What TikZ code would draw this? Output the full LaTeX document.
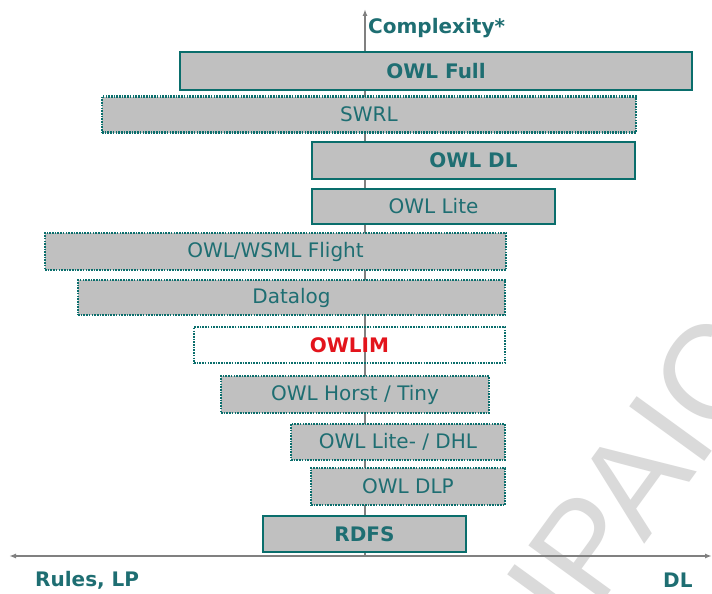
\documentclass[tikz,border=0pt]{standalone}
\usepackage{fontspec}
\setmainfont{DejaVu Sans}
\newfontfamily\markfont{Liberation Sans}
\usetikzlibrary{arrows.meta}
\definecolor{tealline}{HTML}{0A6E6C}
\definecolor{tealtext}{HTML}{1E6E72}
\definecolor{boxgray}{HTML}{C0C0C0}
\definecolor{axisgray}{HTML}{808080}
\definecolor{owlred}{HTML}{E3141C}
\definecolor{markgray}{HTML}{DADADA}
\tikzset{
  x=1pt, y=-1pt,
  layer/.style={fill=boxgray, text=tealtext, inner sep=0pt, font=\fontsize{20}{24}\selectfont},
  solidlayer/.style={layer, draw=tealline, line width=2.6pt, font=\fontsize{20}{24}\selectfont\bfseries},
  dottedlayer/.style={layer, draw=tealline, line width=2.4pt, dash pattern=on 1.6pt off 1.1pt},
  axis/.style={draw=axisgray, line width=1.4pt},
  axislabel/.style={text=tealtext, inner sep=0pt, font=\fontsize{20}{24}\selectfont\bfseries},
}
\begin{document}
\begin{tikzpicture}
\useasboundingbox (0,0) rectangle (712,594);
\fill[white] (0,0) rectangle (712,594);

% faint diagonal watermark
\begin{scope}
\clip (0,0) rectangle (712,594);
\node[text=markgray, rotate=54, anchor=base west, inner sep=0pt,
      font=\markfont\fontsize{135}{135}\selectfont] (mark) at (575,640) {IPAIC};
\end{scope}

% axes
\coordinate (origin) at (365,556);
\coordinate (ytop) at (365,9);
\coordinate (xleft) at (9,556);
\coordinate (xright) at (712,556);
\draw[axis, -{Latex[length=7pt,width=5pt]}] (origin) -- (ytop);
\draw[axis, {Latex[length=7pt,width=5pt]}-{Latex[length=7pt,width=5pt]}] (xleft) -- (xright);

% language layers, top to bottom
\node[solidlayer, minimum width=512pt, minimum height=38pt] (full) at (436,71) {OWL Full};
\node[dottedlayer, minimum width=534pt, minimum height=36pt] (swrl) at (369,114.5) {SWRL};
\node[solidlayer, minimum width=323pt, minimum height=37pt] (dl) at (473.5,160.5) {OWL DL};
\node[layer, draw=tealline, line width=2.2pt, minimum width=243pt, minimum height=35pt] (lite) at (433.5,206.5) {OWL Lite};
\node[dottedlayer, minimum width=461pt, minimum height=37pt] (flight) at (275.5,251.5) {OWL/WSML Flight};
\node[dottedlayer, minimum width=427pt, minimum height=35pt] (datalog) at (291.5,297.5) {Datalog};
\node[dottedlayer, fill=none, text=owlred, font=\fontsize{20}{24}\selectfont\bfseries,
      minimum width=311pt, minimum height=36pt] (owlim) at (349.5,345) {OWLIM};
\node[dottedlayer, minimum width=268pt, minimum height=37pt] (horst) at (355,394.5) {OWL Horst / Tiny};
\node[dottedlayer, minimum width=214pt, minimum height=36pt] (dhl) at (398,442) {OWL Lite- / DHL};
\node[dottedlayer, minimum width=194pt, minimum height=37pt] (dlp) at (408,486.5) {OWL DLP};
\node[solidlayer, minimum width=203pt, minimum height=36pt] (rdfs) at (364.5,534) {RDFS};

% axis labels
\node[axislabel, anchor=west] (complexity) at (368,28) {Complexity*};
\node[axislabel, anchor=west] (rules) at (35,580) {Rules, LP};
\node[axislabel, anchor=west] (dlabel) at (663,580) {DL};
\end{tikzpicture}
\end{document}
